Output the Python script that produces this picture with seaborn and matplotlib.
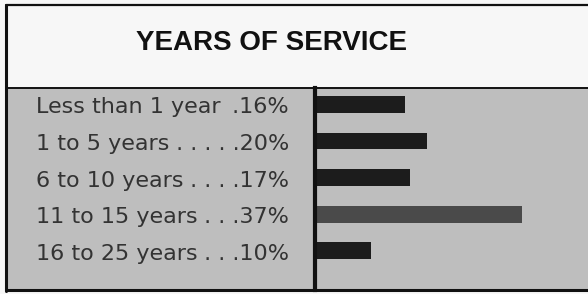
import matplotlib
matplotlib.use("Agg")
import matplotlib.pyplot as plt
import matplotlib.transforms as mtransforms
from matplotlib.patches import Rectangle
import seaborn as sns

# --- data ---
categories = ["Less than 1 year", "1 to 5 years", "6 to 10 years",
              "11 to 15 years", "16 to 25 years"]
leaders = [" .", " . . . . .", " . . . .", " . . .", " . . ."]
percent = [16, 20, 17, 37, 10]
bar_colors = ["#1c1c1c", "#1c1c1c", "#1c1c1c", "#4a4a4a", "#1c1c1c"]
title = "YEARS OF SERVICE"

W, H = 588, 294
sns.set_style("white")
plt.rcParams['font.family'] = ['Liberation Sans', 'DejaVu Sans']

fig = plt.figure(figsize=(W / 100, H / 100), dpi=100)
fig.patch.set_facecolor("#f7f7f7")


def fx(px):
    return px / W


def fy(py):
    return 1 - py / H


# gray lower panel
fig.add_artist(Rectangle((fx(6), fy(290)), fx(588 - 6), fy(88) - fy(290),
                         transform=fig.transFigure, facecolor="#bebebe",
                         edgecolor="none", zorder=-5))
# frame lines
lw = 2.2
fig.add_artist(plt.Line2D([fx(6), fx(588)], [fy(5), fy(5)], color="#111", lw=1.6))
fig.add_artist(plt.Line2D([fx(6), fx(6)], [fy(5), fy(291)], color="#111", lw=lw))
fig.add_artist(plt.Line2D([fx(6), fx(588)], [fy(88), fy(88)], color="#111", lw=1.4))
fig.add_artist(plt.Line2D([fx(6), fx(588)], [fy(290), fy(290)], color="#111", lw=lw))

fig.text(fx(272), fy(43), title, ha="center", va="center",
         fontsize=20, fontweight="bold", color="#111")

# bar panel
ax = fig.add_axes([fx(315), fy(290), fx(588 - 315), fy(88) - fy(290)])
ax.patch.set_alpha(0)
sns.barplot(x=percent, y=categories, hue=categories, palette=bar_colors,
            orient="h", width=0.46, legend=False, ax=ax, saturation=1,
            linewidth=0)
ax.set_xlim(0, 48.75)
ax.set_ylim(5.07, -0.45)
for s in ["top", "right", "bottom"]:
    ax.spines[s].set_visible(False)
ax.spines["left"].set_linewidth(3)
ax.spines["left"].set_color("#111")
ax.set_xticks([])
ax.set_yticks([])
ax.set_xlabel("")
ax.set_ylabel("")

# row labels in left panel
tr = mtransforms.blended_transform_factory(fig.transFigure, ax.transData)
for i, (cat, dots, p) in enumerate(zip(categories, leaders, percent)):
    ax.text(fx(36), i + 0.08, cat, transform=tr, ha="left", va="center",
            fontsize=16, color="#333333", family="DejaVu Sans", clip_on=False)
    ax.text(fx(289), i + 0.08, f"{dots}{p}%", transform=tr, ha="right",
            va="center", fontsize=16, color="#333333", family="DejaVu Sans",
            clip_on=False)

fig.savefig("out.png", dpi=100)
